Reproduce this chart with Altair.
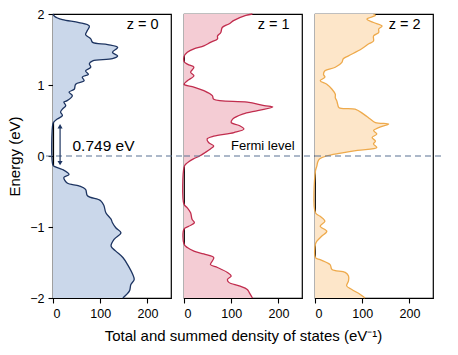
import altair as alt
import pandas as pd

# ---------------- data ----------------
E0 = [2.0, 1.97, 1.92, 1.88, 1.83, 1.77, 1.71, 1.65, 1.60, 1.57, 1.53, 1.46, 1.41, 1.37, 1.34, 1.30,
      1.25, 1.20, 1.15, 1.11, 1.06, 1.01, 0.94, 0.90, 0.85, 0.78, 0.76, 0.71, 0.66, 0.62, 0.57, 0.52,
      0.48, 0.46, -0.13, -0.15, -0.19, -0.26, -0.30, -0.38, -0.42, -0.47, -0.56, -0.63, -0.70, -0.80,
      -0.89, -0.94, -1.01, -1.08, -1.17, -1.27, -1.34, -1.43, -1.53, -1.67, -1.74, -1.81, -1.90, -2.0]
D0 = [0, 3, 20, 55, 77, 73, 69, 80, 84, 116, 137, 126, 137, 126, 84, 77,
      80, 69, 75, 62, 66, 48, 45, 34, 41, 30, 23, 27, 20, 16, 20, 9,
      2, 0, 0, 4, 20, 34, 23, 30, 55, 69, 73, 101, 108, 112,
      123, 126, 133, 144, 130, 123, 133, 148, 158, 169, 172, 165, 162, 148]

E1 = [2.0, 1.98, 1.91, 1.86, 1.81, 1.74, 1.69, 1.65, 1.60, 1.55, 1.51, 1.46, 1.40, 1.33, 1.29, 1.25,
      1.18, 1.13, 1.06, 1.01, 0.97, 0.92, 0.85, 0.80, 0.76, 0.71, 0.69, 0.64, 0.59, 0.52, 0.47, 0.43,
      0.38, 0.33, 0.28, 0.24, 0.19, 0.14, 0.10, 0.05, 0.0, -0.04, -0.08, -0.12, -0.16, -0.68, -0.73,
      -0.80, -0.89, -0.94, -0.99, -1.03, -1.24, -1.29, -1.34, -1.38, -1.43, -1.48, -1.53, -1.57, -1.64,
      -1.69, -1.74, -1.78, -1.83, -1.88, -1.92, -2.0]
D1 = [145, 131, 106, 95, 81, 78, 71, 71, 56, 42, 21, 7, 0, 0, 8, 21,
      14, 21, 7, 0, 21, 42, 60, 63, 134, 170, 188, 156, 124, 103, 100, 117,
      127, 106, 63, 49, 52, 63, 56, 45, 33, 20, 10, 3, 0, 0, 7,
      14, 17, 22, 10, 0, 0, 7, 21, 42, 63, 60, 56, 71, 92,
      100, 92, 95, 117, 134, 138, 145]

E2 = [2.0, 1.98, 1.93, 1.88, 1.83, 1.79, 1.74, 1.69, 1.62, 1.58, 1.51, 1.41, 1.37, 1.32, 1.25, 1.20,
      1.15, 1.11, 1.06, 1.01, 0.94, 0.87, 0.82, 0.78, 0.73, 0.68, 0.66, 0.59, 0.52, 0.47, 0.45, 0.40,
      0.36, 0.31, 0.26, 0.21, 0.17, 0.12, 0.08, 0.04, 0.0, -0.04, -0.08, -0.14, -0.21, -0.80, -0.85,
      -0.92, -0.99, -1.06, -1.13, -1.20, -1.24, -1.43, -1.46, -1.53, -1.60, -1.64, -1.69, -1.76, -1.83,
      -1.88, -1.95, -2.0]
D2 = [124, 128, 110, 124, 142, 135, 135, 124, 124, 114, 99, 71, 60, 57, 43, 21,
      18, 21, 11, 25, 36, 43, 43, 46, 48, 51, 85, 103, 117, 128, 156, 135,
      124, 131, 121, 128, 124, 131, 90, 55, 24, 10, 6, 4, 1, 1, 11,
      21, 11, 25, 14, 4, 1, 1, 11, 32, 36, 64, 71, 71, 67,
      78, 96, 106]

PANEL_LABELS = ["z = 0", "z = 1", "z = 2"]
FILLS = ["#cad7ea", "#f4ccd4", "#fde6c9"]
STROKES = ["#1d3461", "#c12d4e", "#eeaa4c"]

GAP_LABEL = "0.749 eV"
GAP_X = [15]
GAP_TOP = [0.42]
GAP_BOTTOM = [-0.10]
FERMI_LABEL = "Fermi level"

X_TICKS = [0, 100, 200]
Y_TICKS = [-2, -1, 0, 1, 2]

W, H = 118, 284
SP = 13
FONT = "Liberation Sans"
DASH_COLOR = "#5a7394"


def panel(E, D, idx):
    df = pd.DataFrame({"E": E, "dos": D}).sort_values("E").reset_index(drop=True)
    xenc = alt.X(
        "dos:Q",
        stack=None,
        scale=alt.Scale(domain=[0, 250], nice=False),
        axis=alt.Axis(values=X_TICKS, title=("Total and summed density of states (eV⁻¹)" if idx == 1 else None),
                      titleFontSize=15, titlePadding=9, titleFontWeight="normal"),
    )
    yenc = alt.Y(
        "E:Q",
        scale=alt.Scale(domain=[-2, 2], nice=False),
        axis=(alt.Axis(values=Y_TICKS, format="d", title="Energy (eV)", titleFontSize=15, titlePadding=7,
                       titleFontWeight="normal") if idx == 0 else None),
    )
    area = alt.Chart(df).mark_area(
        orient="horizontal", interpolate="catmull-rom", fill=FILLS[idx], opacity=1, clip=True,
    ).encode(x=xenc, y=yenc)
    line = alt.Chart(df).mark_line(
        orient="horizontal", interpolate="catmull-rom", color=STROKES[idx], strokeWidth=1.3,
    ).encode(x=alt.X("dos:Q"), y=alt.Y("E:Q"), order=alt.Order("E:Q"))

    dash = alt.Chart(pd.DataFrame({"E": [0]})).mark_rule(
        strokeDash=[6, 4], color=DASH_COLOR, strokeWidth=1.1
    ).encode(y="E:Q", x=alt.value(-7 if idx == 0 else 0), x2=alt.value(W + (SP if idx < 2 else 10)))

    lab = alt.Chart(pd.DataFrame({"t": [PANEL_LABELS[idx]], "x": [190], "E": [1.845]})).mark_text(
        font=FONT, fontSize=14.5, color="black"
    ).encode(x="x:Q", y="E:Q", text="t:N")

    layers = [area, line, dash, lab]
    if idx == 0:
        arr = pd.DataFrame({"x": GAP_X, "top": GAP_TOP, "bot": GAP_BOTTOM})
        rule = alt.Chart(arr).mark_rule(color=STROKES[0], strokeWidth=1.2).encode(x="x:Q", y="top:Q", y2="bot:Q")
        up = alt.Chart(arr).mark_point(shape="triangle-up", filled=True, size=26, color=STROKES[0], opacity=1).encode(
            x="x:Q", y="top:Q")
        down = alt.Chart(arr).mark_point(shape="triangle-down", filled=True, size=26, color=STROKES[0], opacity=1).encode(
            x="x:Q", y="bot:Q")
        gtxt = alt.Chart(pd.DataFrame({"t": [GAP_LABEL], "x": [107], "E": [0.14]})).mark_text(
            font=FONT, fontSize=15.5, color="black"
        ).encode(x="x:Q", y="E:Q", text="t:N")
        layers += [rule, up, down, gtxt]
    if idx == 1:
        ftxt = alt.Chart(pd.DataFrame({"t": [FERMI_LABEL], "x": [167], "E": [0.14]})).mark_text(
            font=FONT, fontSize=13, color="black"
        ).encode(x="x:Q", y="E:Q", text="t:N")
        layers.append(ftxt)
    return alt.layer(*layers).properties(width=W, height=H)


chart = alt.hconcat(panel(E0, D0, 0), panel(E1, D1, 1), panel(E2, D2, 2), spacing=SP, bounds="flush").properties(
    padding={"left": 7, "top": 7, "right": 5, "bottom": 5},
    background="white",
).configure_view(stroke="black", strokeWidth=1.2).configure_axis(
    labelFont=FONT, titleFont=FONT, labelFontSize=12.5, labelColor="black", titleColor="black",
    tickColor="black", domainColor="black", tickSize=5, labelPadding=4, grid=False, domainWidth=1.2,
    tickWidth=1.1,
)

chart.save("out.html", embed_options={"renderer": "svg", "actions": False})
